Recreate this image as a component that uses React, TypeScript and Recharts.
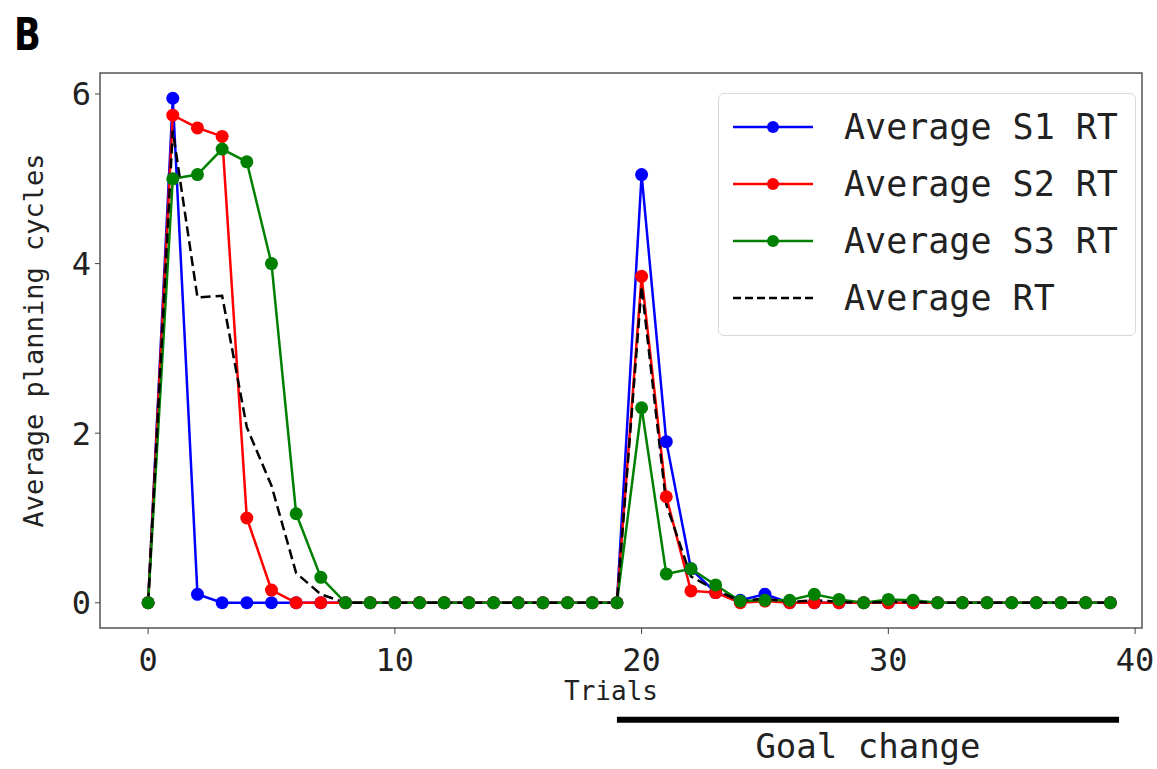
import React from 'react';
import {
  LineChart,
  Line,
  XAxis,
  YAxis,
  Legend,
  ReferenceArea,
  ReferenceLine,
} from 'recharts';

const trials = [
  0, 1, 2, 3, 4, 5, 6, 7, 8, 9, 10, 11, 12, 13, 14, 15, 16, 17, 18, 19,
  20, 21, 22, 23, 24, 25, 26, 27, 28, 29, 30, 31, 32, 33, 34, 35, 36, 37, 38, 39,
];
const s1 = [
  0, 5.95, 0.1, 0, 0, 0, 0, 0, 0, 0, 0, 0, 0, 0, 0, 0, 0, 0, 0, 0,
  5.05, 1.9, 0.4, 0.12, 0.03, 0.1, 0, 0, 0, 0, 0, 0, 0, 0, 0, 0, 0, 0, 0, 0,
];
const s2 = [
  0, 5.75, 5.6, 5.5, 1.0, 0.15, 0, 0, 0, 0, 0, 0, 0, 0, 0, 0, 0, 0, 0, 0,
  3.85, 1.25, 0.14, 0.12, 0, 0.02, 0, 0, 0, 0, 0, 0, 0, 0, 0, 0, 0, 0, 0, 0,
];
const s3 = [
  0, 5.0, 5.05, 5.35, 5.2, 4.0, 1.05, 0.3, 0, 0, 0, 0, 0, 0, 0, 0, 0, 0, 0, 0,
  2.3, 0.34, 0.4, 0.21, 0.02, 0.03, 0.03, 0.1, 0.04, 0, 0.04, 0.03, 0, 0, 0, 0, 0, 0, 0, 0,
];
const avg = [
  0, 5.57, 3.6, 3.62, 2.07, 1.38, 0.35, 0.1, 0, 0, 0, 0, 0, 0, 0, 0, 0, 0, 0, 0,
  3.73, 1.16, 0.31, 0.15, 0.02, 0.05, 0.01, 0.03, 0.01, 0, 0.01, 0.01, 0, 0, 0, 0, 0, 0, 0, 0,
];
const xTicks = [0, 10, 20, 30, 40];
const yTicks = [0, 2, 4, 6];
const goalChange = [19, 39.35];
const goalLevel = -1.38;

const data = trials.map((t, i) => ({ trial: t, s1: s1[i], s2: s2[i], s3: s3[i], avg: avg[i] }));

const mono = '"DejaVu Sans Mono", monospace';
const series = [
  { key: 's1', name: 'Average S1 RT', color: '#0000ff', dashed: false },
  { key: 's2', name: 'Average S2 RT', color: '#ff0000', dashed: false },
  { key: 's3', name: 'Average S3 RT', color: '#008000', dashed: false },
  { key: 'avg', name: 'Average RT', color: '#000000', dashed: true },
];

const LegendBox = () => (
  <div
    style={{
      width: 418,
      height: 243,
      boxSizing: 'border-box',
      border: '1.5px solid #d8d8d8',
      borderRadius: 6,
      background: '#fff',
      paddingTop: 4,
    }}
  >
    {series.map((s) => (
      <div key={s.key} style={{ height: 57, display: 'flex', alignItems: 'center' }}>
        <svg width={110} height={20} style={{ marginLeft: 12 }}>
          <line
            x1={2}
            y1={10}
            x2={82}
            y2={10}
            stroke={s.color}
            strokeWidth={2.5}
            strokeDasharray={s.dashed ? '8 4' : undefined}
          />
          {!s.dashed && <circle cx={42} cy={10} r={6} fill={s.color} />}
        </svg>
        <span style={{ fontFamily: mono, fontSize: 35, color: '#222', marginLeft: 3 }}>{s.name}</span>
      </div>
    ))}
  </div>
);

export default function App() {
  return (
    <div style={{ position: 'absolute', left: 0, top: 0, width: 1157, height: 769, background: '#fff' }}>
      <div
        style={{
          position: 'absolute',
          left: 14,
          top: 9,
          fontFamily: '"DejaVu Sans", sans-serif',
          fontWeight: 'bold',
          fontSize: 44,
          color: '#000',
          transform: 'scaleX(0.8)',
          transformOrigin: 'left top',
        }}
      >
        B
      </div>
      <LineChart
        width={1157}
        height={769}
        data={data}
        margin={{ top: 73, right: 15, left: 10, bottom: 61 }}
      >
        <XAxis
          dataKey="trial"
          type="number"
          domain={[-1.95, 40.28]}
          ticks={xTicks}
          allowDataOverflow
          height={80}
          axisLine={false}
          tickSize={6}
          tickMargin={14}
          tickLine={{ stroke: '#444' }}
          tick={{ fontFamily: mono, fontSize: 32, fill: '#222' }}
          label={{
            value: 'Trials',
            position: 'insideBottom',
            offset: 8,
            dx: -10,
            style: { fontFamily: mono, fontSize: 26, fill: '#222' },
          }}
        />
        <YAxis
          type="number"
          domain={[-0.2975, 6.2475]}
          ticks={yTicks}
          allowDataOverflow
          width={90}
          axisLine={false}
          tickSize={5}
          tickMargin={4}
          tickLine={{ stroke: '#444' }}
          tick={{ fontFamily: mono, fontSize: 32, fill: '#222' }}
          label={{
            value: 'Average planning cycles',
            angle: -90,
            position: 'insideLeft',
            offset: 23,
            dy: -10,
            style: { fontFamily: mono, fontSize: 27, fill: '#222', textAnchor: 'middle' },
          }}
        />
        <ReferenceArea
          x1={-1.95}
          x2={40.28}
          y1={-0.2975}
          y2={6.2475}
          fill="none"
          stroke="#555"
          strokeWidth={1.5}
          ifOverflow="visible"
        />
        {series.map((s) => (
          <Line
            key={s.key}
            dataKey={s.key}
            name={s.name}
            type="linear"
            stroke={s.color}
            strokeWidth={2.5}
            strokeDasharray={s.dashed ? '10 5' : undefined}
            dot={s.dashed ? false : { r: 6.5, fill: s.color, stroke: s.color, strokeWidth: 0 }}
            activeDot={false}
            isAnimationActive={false}
          />
        ))}
        <ReferenceLine
          segment={[
            { x: goalChange[0], y: goalLevel },
            { x: goalChange[1], y: goalLevel },
          ]}
          stroke="#000"
          strokeWidth={6}
          ifOverflow="visible"
          label={{
            value: 'Goal change',
            position: 'bottom',
            offset: 14,
            style: { fontFamily: mono, fontSize: 34, fill: '#222' },
          }}
        />
        <Legend
          layout="horizontal"
          verticalAlign="middle"
          content={<LegendBox />}
          wrapperStyle={{ position: 'absolute', left: 718, top: 93, width: 418, height: 243 }}
        />
      </LineChart>
    </div>
  );
}
